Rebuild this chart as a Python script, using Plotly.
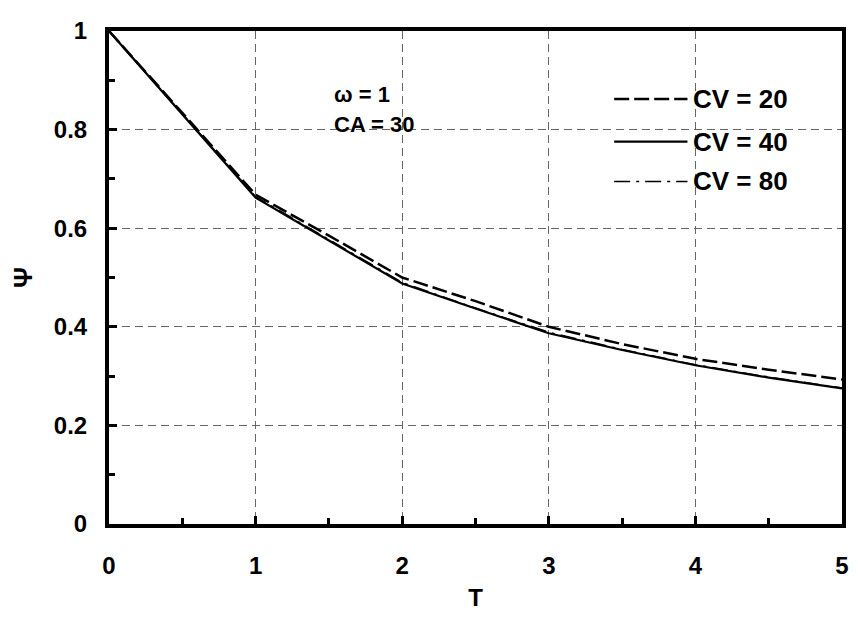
import plotly.graph_objects as go

# ---- data ----
T = [0, 0.5, 1, 1.5, 2, 2.5, 3, 3.5, 4, 4.5, 5]
psi_cv20 = [1.0, 0.835, 0.668, 0.585, 0.500, 0.452, 0.400, 0.365, 0.335, 0.313, 0.293]
psi_cv40 = [1.0, 0.830, 0.662, 0.575, 0.488, 0.437, 0.387, 0.353, 0.322, 0.297, 0.275]
psi_cv80 = [1.0, 0.832, 0.664, 0.577, 0.490, 0.438, 0.389, 0.354, 0.323, 0.298, 0.276]

series_names = ["CV = 20", "CV = 40", "CV = 80"]
x_ticks = [0, 1, 2, 3, 4, 5]
y_ticks = [0, 0.2, 0.4, 0.6, 0.8, 1]
y_tick_text = ["0", "0.2", "0.4", "0.6", "0.8", "1"]
note_lines = ["ω = 1", "CA = 30"]

FONT = "Liberation Sans, Arial, sans-serif"

styles = [
    dict(color="black", width=2.5, dash="15px,5px"),
    dict(color="black", width=2.2, dash="solid"),
    dict(color="black", width=1.5, dash="16px,6px,3px,6px"),
]

fig = go.Figure()
for name, ys, st in zip(series_names, [psi_cv20, psi_cv40, psi_cv80], styles):
    fig.add_trace(go.Scatter(x=T, y=ys, mode="lines", name=name, line=st, showlegend=False))

# the page body adds an 8px offset; size the figure to compensate
OFF = 8
W, H = 858 - OFF, 617 - OFF
ml, mr, mt, mb = 109 - OFF, 9, 22 - OFF, 87
pw, ph = W - ml - mr, H - mt - mb

# helpers taking screen pixel coordinates
def px(xp):
    return (xp - OFF - ml) / pw

def py(yp):
    return (H - mb - (yp - OFF)) / ph

shapes = []
annotations = []

# white box behind the parameter text
shapes.append(dict(type="rect", xref="paper", yref="paper", layer="between",
                   x0=px(328), x1=px(507), y0=py(137), y1=py(68),
                   fillcolor="white", line=dict(width=0)))
# white legend box
shapes.append(dict(type="rect", xref="paper", yref="paper", layer="between",
                   x0=px(613), x1=px(803), y0=py(205), y1=py(67),
                   fillcolor="white", line=dict(width=0)))

annotations.append(dict(text="<b>%s</b>" % note_lines[0], xref="paper", yref="paper",
                        x=px(334), y=py(87), xanchor="left", yanchor="middle",
                        showarrow=False, font=dict(family=FONT, size=22, color="black")))
annotations.append(dict(text="<b>%s</b>" % note_lines[1], xref="paper", yref="paper",
                        x=px(334), y=py(118), xanchor="left", yanchor="middle",
                        showarrow=False, font=dict(family=FONT, size=22, color="black")))

# manual legend
leg_rows = [92, 136, 177]
for name, st, yr in zip(series_names, styles, leg_rows):
    shapes.append(dict(type="line", xref="paper", yref="paper", layer="above",
                       x0=px(619), x1=px(693), y0=py(yr), y1=py(yr),
                       line=dict(color="black", width=st["width"], dash=st["dash"])))
    annotations.append(dict(text="<b>%s</b>" % name, xref="paper", yref="paper",
                            x=px(697), y=py(yr), xanchor="left", yanchor="middle",
                            showarrow=False, font=dict(family=FONT, size=26, color="black")))

grid_style = dict(showgrid=True, gridcolor="#666666", gridwidth=1, griddash="8px,5px")

fig.update_layout(
    width=W, height=H,
    margin=dict(l=ml, r=mr, t=mt, b=mb, pad=0),
    paper_bgcolor="white", plot_bgcolor="white",
    font=dict(family=FONT, color="black"),
    shapes=shapes, annotations=annotations,
    showlegend=False,
)

fig.update_xaxes(
    range=[0, 5], tickvals=x_ticks, ticktext=[str(v) for v in x_ticks],
    showline=True, linecolor="black", linewidth=4, mirror=True,
    ticks="inside", ticklen=8, tickwidth=3, tickcolor="black",
    minor=dict(ticks="inside", dtick=0.5, ticklen=6, tickwidth=3, tickcolor="black", showgrid=False),
    tickfont=dict(family=FONT, size=24, color="black", weight="bold"),
    ticklabelstandoff=17,
    zeroline=False,
    title=dict(text="<b>T</b>", font=dict(family=FONT, size=24, color="black"), standoff=12),
    **grid_style,
)
fig.update_yaxes(
    range=[0, 1], tickvals=y_ticks, ticktext=y_tick_text,
    showline=True, linecolor="black", linewidth=4, mirror=True,
    ticks="inside", ticklen=8, tickwidth=3, tickcolor="black",
    minor=dict(ticks="inside", dtick=0.1, ticklen=6, tickwidth=3, tickcolor="black", showgrid=False),
    tickfont=dict(family=FONT, size=24, color="black", weight="bold"),
    ticklabelstandoff=13,
    zeroline=False,
    title=dict(text="<b>Ψ</b>", font=dict(family=FONT, size=26, color="black"), standoff=18),
    **grid_style,
)

fig.write_html("out.html")
